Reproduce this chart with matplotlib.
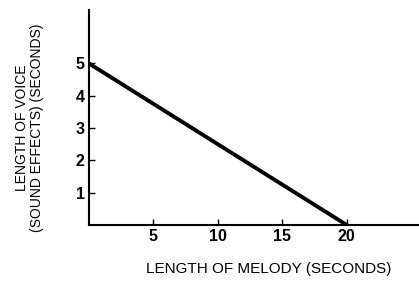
from matplotlib import pyplot as plt

melody = [0, 20]
voice = [5, 0]
x_ticks = [5, 10, 15, 20]
y_ticks = [1, 2, 3, 4, 5]

plt.rcParams['font.family'] = ['Liberation Sans', 'DejaVu Sans']

fig = plt.figure(figsize=(4.19, 2.82), dpi=100)
ax = fig.add_axes([0.2124, 0.202, 0.7876, 0.762])

ax.plot(melody, voice, color='black', linewidth=2.8, solid_capstyle='butt')

ax.set_xlim(0, 25.6)
ax.set_ylim(0, 6.65)
ax.set_xticks(x_ticks)
ax.set_yticks(y_ticks)
ax.set_xticklabels([str(t) for t in x_ticks], fontweight='bold', fontsize=11.5)
ax.set_yticklabels([str(t) for t in y_ticks], fontweight='bold', fontsize=11.5)
ax.tick_params(direction='in', length=4, width=1, pad=3)

for side in ['top', 'right']:
    ax.spines[side].set_visible(False)
for side in ['left', 'bottom']:
    ax.spines[side].set_linewidth(1.5)

ax.set_xlabel('LENGTH OF MELODY (SECONDS)', fontsize=11)
ax.xaxis.set_label_coords(0.545, -0.17)
ax.set_ylabel('LENGTH OF VOICE\n(SOUND EFFECTS) (SECONDS)', fontsize=10,
              linespacing=1.1)
ax.yaxis.set_label_coords(-0.136, 0.453)

fig.savefig('out.png', dpi=100)
